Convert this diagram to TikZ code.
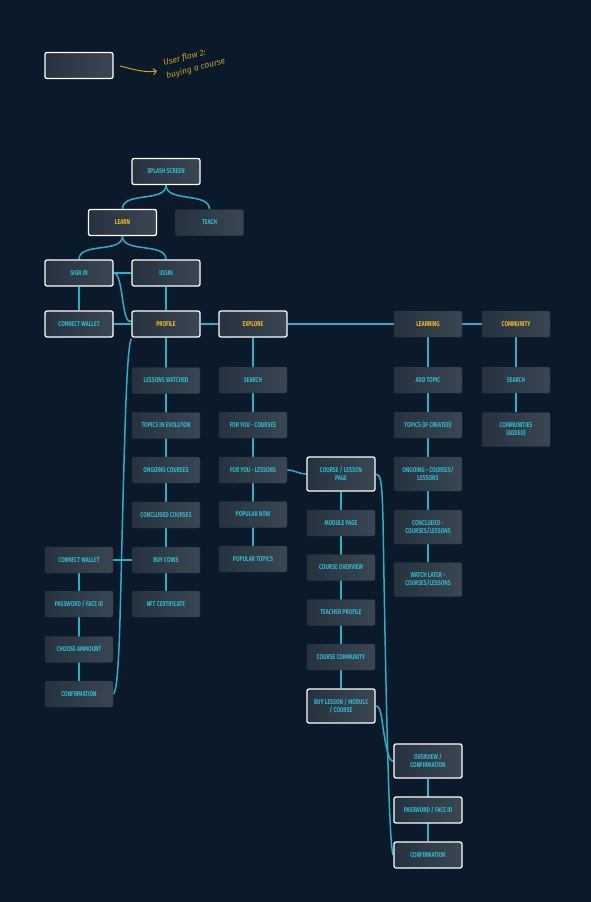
\documentclass[tikz,border=0pt]{standalone}
\usepackage{fontspec}
\usetikzlibrary{arrows.meta}
\setmainfont{Fira Sans}[FakeStretch=0.74]
\newfontfamily\handfont{Fira Sans}
\definecolor{bgc}{HTML}{0A1A2B}
\definecolor{boxl}{HTML}{26323E}
\definecolor{boxr}{HTML}{3A4652}
\definecolor{teal}{HTML}{2AB0C3}
\definecolor{tealtxt}{HTML}{2FB8CA}
\definecolor{gold}{HTML}{F2B720}
\definecolor{hand}{HTML}{C9A226}
\pgfdeclarelayer{bg}
\pgfsetlayers{bg,main}
\tikzset{
  box/.style={rounded corners=2pt, left color=boxl, right color=boxr, minimum width=68pt, minimum height=26pt, inner sep=1pt,
    text=tealtxt, font=\fontsize{7}{8}\selectfont\bfseries, align=center, draw=boxr!80!black, line width=0.4pt},
  wbox/.style={box, draw=white, line width=1.3pt},
  ybox/.style={text=gold},
  tall/.style={minimum height=34pt},
  conn/.style={draw=teal, line width=1.5pt},
  handtxt/.style={text=hand, font=\handfont\fontsize{8.5}{10}\selectfont\itshape, rotate=15, anchor=base west, inner sep=0pt},
}
\begin{document}
\begin{tikzpicture}[x=1pt,y=-1pt]
\begin{pgfonlayer}{bg}
\fill[bgc] (0,0) rectangle (591,902);
\end{pgfonlayer}
\useasboundingbox (0,0) rectangle (591,902);

% legend
\node[wbox] (legend) at (79,65.5) {};
\coordinate (la) at (120,66);
\coordinate (lb) at (157,71);
\draw[hand, line width=1pt, -{Straight Barb[length=3pt]}] (la) .. controls (132,69) and (145,73) .. (lb);
\node[handtxt] (ltxt1) at (164,66) {User flow 2:};
\node[handtxt] (ltxt2) at (167,79) {buying a course};

% top tree
\node[wbox] (splash) at (166,171.5) {SPLASH SCREEN};
\node[wbox,ybox] (learn) at (122.5,222.5) {LEARN};
\node[box] (teach) at (209.5,222.5) {TEACH};
\node[wbox] (signin) at (79,273) {SIGN IN};
\node[wbox] (login) at (166,273) {lOGIN};
\node[wbox] (cw1) at (79,324) {CONNECT WALLET};
\node[wbox,ybox] (profile) at (166,324) {PROFILE};
\node[wbox,ybox] (explore) at (253,324) {EXPLORE};
\node[box,ybox] (learning) at (428,324) {LEARNING};
\node[box,ybox] (community) at (516,324) {COMMUNITY};

% profile column
\node[box] (lw) at (166,380.5) {LESSONS WATCHED};
\node[box] (tie) at (166,425.5) {TOPICS IN EVOLUTON};
\node[box] (oc) at (166,470) {ONGOING COURSES};
\node[box] (cc) at (166,515) {CONCLUDED COURSES};
\node[box] (bc) at (166,560) {BUY COINS};
\node[box] (nft) at (166,604) {NFT CERTIFICATE};

% left column
\node[box] (cw2) at (79,560) {CONNECT WALLET};
\node[box] (pw) at (79,604) {PASSWORD / FACE ID};
\node[box] (ca) at (79,649.5) {CHOOSE AMMOUNT};
\node[box] (conf) at (79,694) {CONFIRMATION};

% explore column
\node[box] (srch) at (253,380) {SEARCH};
\node[box] (fyc) at (253,425) {FOR YOU - COURSES};
\node[box] (fyl) at (253,470) {FOR YOU - LESSONS};
\node[box] (pn) at (253,514.5) {POPULAR NOW};
\node[box] (pt) at (253,559) {POPULAR TOPICS};

% course column
\node[wbox,tall] (clp) at (341,474) {COURSE / LESSON\\PAGE};
\node[box] (mp) at (341,523) {MODULE PAGE};
\node[box] (co) at (341,567.5) {COURSE OVERVIEW};
\node[box] (tp) at (341,612.5) {TEACHER PROFILE};
\node[box] (ccom) at (341,657) {COURSE COMMUNITY};
\node[wbox,tall] (buy) at (341,706) {BUY LESSON / MODULE\\/ COURSE};

% overview column
\node[wbox,tall] (ov) at (428,761) {OVERVIEW /\\CONFIRMATION};
\node[wbox] (pw2) at (428,810) {PASSWORD / FACE ID};
\node[wbox] (conf2) at (428,855) {CONFIRMATION};

% learning column
\node[box] (at) at (428,380) {ADD TOPIC};
\node[box] (tic) at (428,425) {TOPICS (IF CREATED)};
\node[box,tall] (ong) at (428,474) {ONGOING - COURSES/\\LESSONS};
\node[box,tall] (conc) at (428,527) {CONCLUDED -\\COURSES/LESSONS};
\node[box,tall] (wl) at (428,579.5) {WATCH LATER -\\COURSES/LESSONS};

% community column
\node[box] (cs) at (516,380) {SEARCH};
\node[box,tall] (comm) at (516,429.5) {COMMUNITIES\\(ADDED)};

\begin{pgfonlayer}{bg}
\draw[conn] (splash.south) to[out=-90,in=90,looseness=0.9] (learn.north);
\draw[conn] (splash.south) to[out=-90,in=90,looseness=0.9] (teach.north);
\draw[conn] (learn.south) to[out=-90,in=90,looseness=0.9] (signin.north);
\draw[conn] (learn.south) to[out=-90,in=90,looseness=0.9] (login.north);
\draw[conn] (signin.south) -- (cw1.north);
\draw[conn] (login.south) -- (profile.north);
\draw[conn] (signin.east) -- (login.west);
\draw[conn] (signin.east) .. controls (124,273) and (121,326) .. ([yshift=3]profile.west);
\draw[conn] (cw1.east) -- (profile.west);
\draw[conn] (conf.east) .. controls (119,692) and (120,620) .. (122,540) .. controls (125,420) and (127,345) .. ([yshift=-1]profile.south west);
\draw[conn] (profile.south) -- (nft.north);
\draw[conn] (cw2.east) -- (bc.west);
\draw[conn] (cw2.south) -- (conf.north);
\draw[conn] (profile.east) -- (explore.west);
\draw[conn] (explore.east) -- (learning.west);
\draw[conn] (learning.east) -- (community.west);
\draw[conn] (explore.south) -- (pt.north);
\draw[conn] (fyl.east) to[out=0,in=180] (clp.west);
\draw[conn] (clp.south) -- (buy.north);
\draw[conn] (clp.east) .. controls (381,474) and (382,482) .. (383,520) .. controls (386,700) and (389,850) .. (conf2.west);
\draw[conn] (buy.east) .. controls (382,706) and (381,720) .. (386,745) .. controls (389,760) and (391,761) .. (ov.west);
\draw[conn] (ov.south) -- (conf2.north);
\draw[conn] (learning.south) -- (wl.north);
\draw[conn] (community.south) -- (comm.north);
\end{pgfonlayer}
\end{tikzpicture}
\end{document}
